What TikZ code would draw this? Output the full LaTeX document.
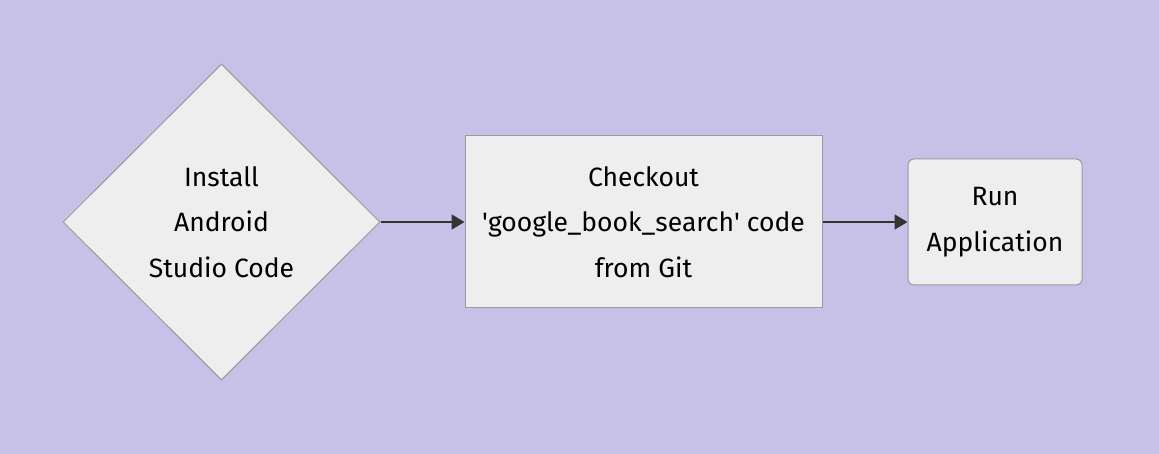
\documentclass[tikz,border=0pt]{standalone}
\usepackage{fontspec}
\setmainfont{Fira Sans}
\usetikzlibrary{shapes.geometric,arrows.meta}
\definecolor{bgcol}{HTML}{C7C0E7}
\definecolor{boxfill}{HTML}{EEEEEE}
\definecolor{boxline}{HTML}{9A9A9A}
\definecolor{arrowcol}{HTML}{333333}
\begin{document}
\begin{tikzpicture}[x=1pt, y=-1pt,
  every node/.style={font=\fontsize{26.5}{45.5}\selectfont, align=center, text=black},
  box/.style={draw=boxline, fill=boxfill, line width=1pt, inner sep=0pt},
  link/.style={draw=arrowcol, line width=1.8pt, -{Triangle[length=13pt,width=15pt]}}]
\fill[bgcol] (0,0) rectangle (1159,454);
\useasboundingbox (0,0) rectangle (1159,454);
\node[box, diamond, minimum width=317pt, minimum height=316pt] (install) at (221.5,222){Install\\Android\\Studio Code};
\node[box, rectangle, minimum width=357pt, minimum height=172pt] (checkout) at (643.5,222){Checkout\\\textquotesingle google\_book\_search\textquotesingle{} code\\from Git};
\node[box, rectangle, rounded corners=6pt, minimum width=174pt, minimum height=126pt] (run) at (995,222){Run\\Application};
\draw[link](install) -- (checkout);
\draw[link](checkout) -- (run);
\end{tikzpicture}
\end{document}
